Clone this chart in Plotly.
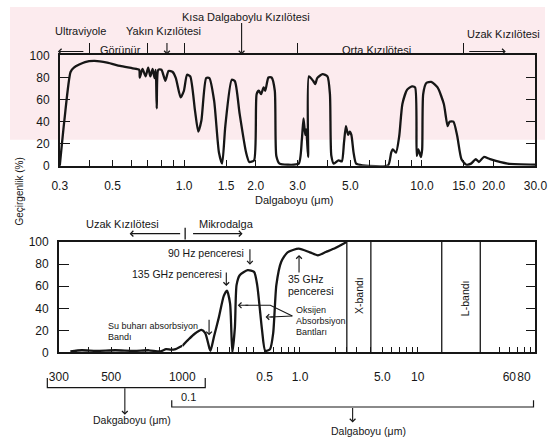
import math
import plotly.graph_objects as go

W, H = 559, 445

# ---------------- data ----------------
# Upper panel: atmospheric transmission 0.3 - 30 um
top_wl = [0.300, 0.314, 0.333, 0.344, 0.383, 0.420, 0.475, 0.538, 0.608, 0.647,
          0.651, 0.668, 0.689, 0.706, 0.721, 0.737, 0.751, 0.760, 0.767, 0.779,
          0.803, 0.834, 0.860, 0.895, 0.923, 0.967, 0.998, 1.029, 1.061, 1.111,
          1.147, 1.182, 1.238, 1.277, 1.337, 1.401, 1.445, 1.490, 1.586, 1.635,
          1.712, 1.822, 1.879, 1.968, 2.018, 2.061, 2.106, 2.159, 2.193, 2.262,
          2.332, 2.406, 2.442, 2.520, 2.722, 3.033, 3.127, 3.177, 3.230, 3.261,
          3.322, 3.346, 3.485, 3.561, 3.627, 3.824, 4.005, 4.103, 4.157, 4.258,
          4.460, 4.603, 4.701, 4.789, 4.892, 4.970, 5.049, 5.158, 5.288, 5.623,
          7.200, 7.424, 7.543, 7.776, 8.025, 8.275, 8.667, 9.077, 9.359, 9.507,
          9.659, 9.893, 10.02, 10.12, 10.43, 10.93, 11.63, 12.36, 12.82, 13.07,
          13.56, 14.07, 14.66, 15.36, 16.08, 16.84, 17.36, 18.19, 19.35, 22.94,
          30.0]
top_tr = [0, 42, 85, 89, 94, 95, 93.5, 90.5, 88.3, 87,
          80, 87.7, 81, 89, 81, 87.7, 79.5, 87, 52, 87,
          87, 77, 86, 85, 79.5, 62, 68, 82.5, 81, 50,
          31, 41, 79.5, 79.5, 59, 12, 2, 36, 78, 76.6,
          47, 12, 3.5, 5, 65, 68, 65, 71, 68, 80,
          80, 68, 9, 2, 1, 2, 24, 43, 28, 33,
          8, 81, 77, 74, 79.5, 83, 81, 65, 9.5, 2,
          5, 4, 21, 36, 28, 31, 28, 12, 2, 0.5,
          0.5, 12, 15, 12, 27, 56, 69, 72, 71, 9,
          15, 8, 15, 65, 75, 76, 71, 56, 36, 40,
          40, 27, 6, 1, 2, 6, 3.5, 8, 6, 2,
          1]
top_tickvals = [0.3, 0.4, 0.5, 0.6, 0.7, 0.8, 0.9, 1.0, 1.5, 2.0, 3.0,
                4, 5, 6, 7, 8, 9, 10, 15, 20, 30]
top_ticktext = ['0.3', '', '0.5', '', '', '', '', '1.0', '1.5', '2.0', '3.0',
                '', '5.0', '', '', '', '', '10.0', '15.0', '20.0', '30.0']
region_bounds = [0.4, 0.7, 1.0, 3.0, 15.0]

# Lower panel, part 1: wavelength in um (300 - 1000)
low_um_wl = [335.7, 375.4, 431.8, 520.4, 627.3, 721.9, 807.2, 853.8, 894.6, 937.3, 1000]
low_um_tr = [1, 2, 1.5, 2, 1.5, 2, 1, 3, 2.5, 3, 6]
low_um_tickvals = [300, 400, 500, 600, 700, 800, 900, 1000]
low_um_ticktext = ['300', '', '500', '', '', '', '', '1000']

# Lower panel, part 2: wavelength in cm (0.1 - 100)
low_cm_wl = [0.1, 0.1134, 0.1275, 0.1454, 0.1567, 0.1699, 0.1737, 0.1865, 0.2048, 0.2249,
             0.2397, 0.2549, 0.2661, 0.2800, 0.2891, 0.3075, 0.3592, 0.4072, 0.4330, 0.4757,
             0.5068, 0.5565, 0.5920, 0.6297, 0.6916, 0.7840, 0.9759, 1.2126, 1.4191, 1.6578,
             1.9989, 2.4885]
low_cm_tr = [6, 12, 17, 20.5, 17.5, 4, 1.5, 15, 32, 51,
             56, 44, 0, 23, 61, 70, 74.5, 73, 61, 20.5,
             1.5, 3, 17.5, 61, 82, 90.7, 94, 90.7, 88, 91,
             94.6, 100]
low_cm_tickvals = [0.2, 0.25, 0.3, 0.35, 0.4, 0.5, 0.6, 0.7, 0.8, 0.9, 1.0,
                   2.0, 2.5, 3.0, 4.0, 5, 6, 7, 8, 9, 10, 50, 60, 70, 80, 90]
low_cm_ticktext = ['', '', '', '', '', '0.5', '', '', '', '', '1.0',
                   '', '', '', '', '5.0', '', '', '', '', '10', '', '60', '', '80', '']
x_band = [2.5, 4.0]
l_band = [16, 34]
y_ticks = [0, 20, 40, 60, 80, 100]

# ---------------- helpers (layout positions) ----------------
def px(x):
    return x / W

def py(y):
    return 1 - y / H

FONT = 'Liberation Sans, Arial, sans-serif'
INK = '#161616'
curve = dict(color=INK, width=2.3, shape='spline', smoothing=0.6)

fig = go.Figure()
fig.add_trace(go.Scatter(x=top_wl, y=top_tr, mode='lines', xaxis='x', yaxis='y',
                         line=curve, showlegend=False, hoverinfo='skip'))
fig.add_trace(go.Scatter(x=low_um_wl, y=low_um_tr, mode='lines', xaxis='x2', yaxis='y2',
                         line=curve, showlegend=False, hoverinfo='skip'))
fig.add_trace(go.Scatter(x=low_cm_wl, y=low_cm_tr, mode='lines', xaxis='x4', yaxis='y2',
                         line=curve, showlegend=False, hoverinfo='skip'))
# empty traces so that the overlay axes are rendered
fig.add_trace(go.Scatter(x=[], y=[], xaxis='x3', yaxis='y', showlegend=False))
fig.add_trace(go.Scatter(x=[], y=[], xaxis='x4', yaxis='y3', showlegend=False))

tickfont = dict(family=FONT, size=12, color=INK)
axline = dict(showline=True, linecolor=INK, linewidth=1.5, showgrid=False, zeroline=False,
              tickcolor=INK, tickwidth=1.3, tickfont=tickfont, tickangle=0)

fig.update_layout(
    width=W, height=H, margin=dict(l=0, r=0, t=0, b=0),
    paper_bgcolor='white', plot_bgcolor='rgba(0,0,0,0)',
    xaxis=dict(type='log', range=[math.log10(0.3), math.log10(30)], domain=[px(52), px(549)],
               anchor='y', tickvals=top_tickvals, ticktext=top_ticktext, ticks='inside',
               ticklen=6, ticklabelstandoff=8, **axline),
    xaxis3=dict(type='log', range=[math.log10(0.3), math.log10(30)], overlaying='x', side='top',
                anchor='y', tickvals=region_bounds, ticks='outside', ticklen=11,
                showticklabels=False, **axline),
    yaxis=dict(range=[0, 100], domain=[py(164), py(50)], anchor='x', tickvals=y_ticks,
               ticks='inside', ticklen=10, mirror='ticks', ticklabelstandoff=6, **axline),
    xaxis2=dict(type='log', range=[math.log10(300), 3], domain=[px(51), px(180)], anchor='y2',
                tickvals=low_um_tickvals, ticktext=low_um_ticktext, ticks='inside', ticklen=6,
                mirror=True, ticklabelstandoff=12, **axline),
    xaxis4=dict(type='log', range=[-1, 2.0], domain=[px(180), px(549)], anchor='y2',
                tickvals=low_cm_tickvals, ticktext=low_cm_ticktext, ticks='inside', ticklen=6,
                mirror=True, ticklabelstandoff=12, **axline),
    yaxis2=dict(range=[0, 100], domain=[py(356.7), py(242.7)], anchor='x2', tickvals=y_ticks,
                ticks='inside', ticklen=10, ticklabelstandoff=6, **axline),
    yaxis3=dict(range=[0, 100], overlaying='y2', anchor='x4', side='right', tickvals=y_ticks[1:-1],
                ticks='inside', ticklen=10, showticklabels=False, **axline),
)

shapes = []
# faint watermark in the upper band
shapes.append(dict(type='rect', xref='paper', yref='paper', x0=0, x1=1, y0=py(137), y1=1,
                   fillcolor='#fcebee', line=dict(width=0), layer='below'))
# X and L band boundaries
for b in x_band + l_band:
    shapes.append(dict(type='line', xref='x4', yref='y2', x0=b, x1=b, y0=0, y1=100,
                       line=dict(color=INK, width=1.3)))
# boundary tick between far-IR and microwave
shapes.append(dict(type='line', xref='paper', yref='paper', x0=px(183), x1=px(183),
                   y0=py(240), y1=py(228), line=dict(color=INK, width=1.3)))
# brackets under lower axis
shapes.append(dict(type='path', xref='paper', yref='paper',
                   path='M {} {} L {} {} L {} {} L {} {}'.format(px(39), py(383), px(39), py(393),
                                                              px(204), py(393), px(204), py(383)),
                   line=dict(color=INK, width=1.2)))
shapes.append(dict(type='path', xref='paper', yref='paper',
                   path='M {} {} L {} {} L {} {} L {} {}'.format(px(169), py(406), px(169), py(413),
                                                              px(547), py(413), px(547), py(406)),
                   line=dict(color=INK, width=1.2)))
# oxygen absorption pointer lines
shapes.append(dict(type='path', xref='paper', yref='paper',
                   path='M {} {} L {} {} L {} {}'.format(px(295), py(319), px(272), py(308), px(246), py(308)),
                   line=dict(color=INK, width=1.1)))
shapes.append(dict(type='line', xref='paper', yref='paper', x0=px(295), y0=py(319), x1=px(272), y1=py(320),
                   line=dict(color=INK, width=1.1)))
fig.update_layout(shapes=shapes)

ann = []
def text(t, x, y, size=11, xanchor='center', angle=0):
    ann.append(dict(text=t, x=px(x), y=py(y), xref='paper', yref='paper', showarrow=False,
                    xanchor=xanchor, yanchor='middle', textangle=angle,
                    font=dict(family=FONT, size=size, color=INK)))

def arrow(hx, hy, tx, ty):
    ann.append(dict(text='', x=px(hx), y=py(hy), xref='paper', yref='paper', showarrow=True,
                    ax=tx - hx, ay=ty - hy, axref='pixel', ayref='pixel', arrowhead=4,
                    arrowsize=1, arrowwidth=1.1, arrowcolor=INK, standoff=0, startstandoff=0))

# upper panel labels
text('Ultraviyole', 73.5, 25)
text('Görünür', 115, 44)
text('Yakın Kızılötesi', 160.5, 25)
text('Kısa Dalgaboylu Kızılötesi', 247, 10)
text('Orta Kızılötesi', 383, 44)
text('Uzak Kızılötesi', 516, 28)
text('Dalgaboyu (μm)', 297, 199)
text('Geçirgenlik (%)', 10, 191, size=10, angle=-90)
arrow(50, 46, 77, 46)
arrow(164, 49, 164, 36)
arrow(242, 49, 242, 16)
arrow(518, 46, 480, 46)

# lower panel labels
text('Uzak Kızılötesi', 118, 224)
text('Mikrodalga', 226, 224)
arrow(125, 234, 177, 234)
arrow(243, 234, 192, 234)
text('90 Hz penceresi', 205, 254, size=10.5)
arrow(250.7, 266, 250.7, 249)
text('135 GHz penceresi', 175, 276, size=10.5)
arrow(226, 288, 226, 273)
text('Su buharı absorbsiyon', 100, 329, size=9, xanchor='left')
text('Bandı', 100, 341, size=9, xanchor='left')
arrow(208, 339, 208, 322)
text('35 GHz', 288, 281, size=10.5, xanchor='left')
text('penceresi', 288, 293, size=10.5, xanchor='left')
arrow(302, 256, 302, 275)
text('Oksijen', 297, 313, size=9, xanchor='left')
text('Absorbsiyon', 297, 324.5, size=9, xanchor='left')
text('Bantları', 297, 336, size=9, xanchor='left')
arrow(238, 308, 250, 308)
arrow(267, 320, 276, 320)
text('X-bandı', 364, 298, size=10.5, angle=-90)
text('L-bandı', 475, 301, size=10.5, angle=-90)
text('0.1', 187, 403, size=11)
arrow(120, 421, 120, 393)
text('Dakgaboyu (μm)', 127, 426, size=10.5)
arrow(358, 429, 358, 413)
text('Dalgaboyu (μm)', 375, 438, size=10.5)
fig.update_layout(annotations=ann)

fig.write_html('out.html')
